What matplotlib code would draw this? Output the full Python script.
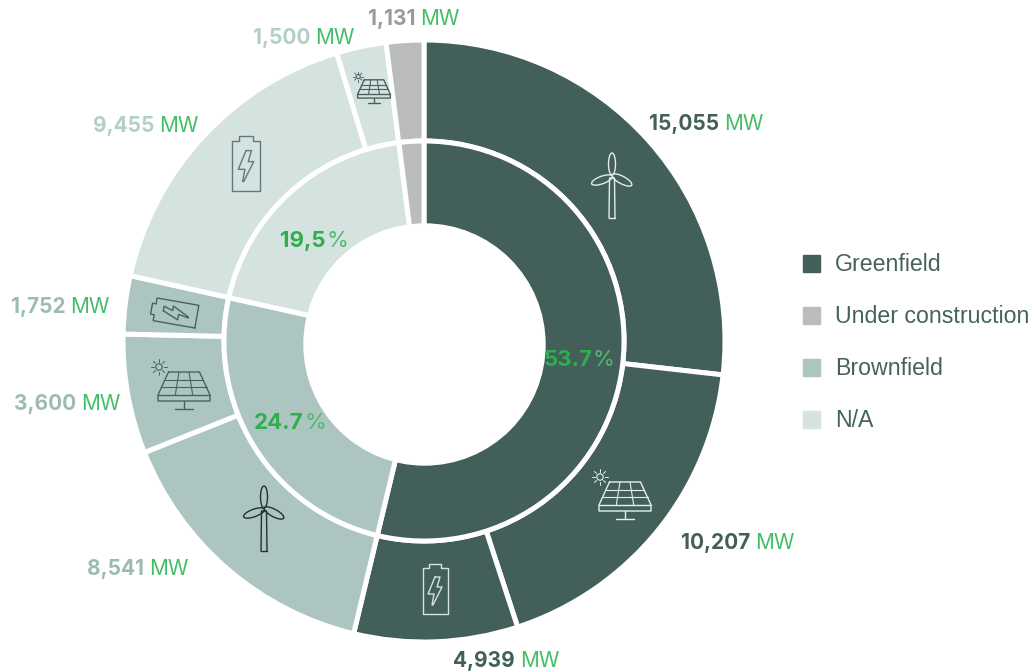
import matplotlib
matplotlib.use("Agg")
import matplotlib.pyplot as plt
import matplotlib.patches as mpatches
from matplotlib.transforms import Affine2D

# outer ring, clockwise from 12 o'clock
outer_labels = ["15,055", "10,207", "4,939", "8,541", "3,600", "1,752", "9,455", "1,500", "1,131"]
outer_values = [15055, 10207, 4939, 8541, 3600, 1752, 9455, 1500, 1131]

# inner ring
inner_names = ["Greenfield", "Brownfield", "N/A", "Under construction"]
inner_values = [53.7, 24.7, 19.5, 2.0]
inner_labels = ["53.7", "24.7", "19,5", ""]

legend_names = ["Greenfield", "Under construction", "Brownfield", "N/A"]

DARK = "#425F59"
GREY = "#BBBDBA"
BROWN = "#ACC5C1"
NA = "#D5E3E0"
GREEN = "#44BE66"
PCT = "#2FAE4E"
colors = {"Greenfield": DARK, "Under construction": GREY, "Brownfield": BROWN, "N/A": NA}
outer_colors = [DARK, DARK, DARK, BROWN, BROWN, BROWN, NA, NA, GREY]
label_colors = [DARK, DARK, DARK, "#9DBBB5", "#9DBBB5", "#9DBBB5", "#B4CEC8", "#B4CEC8", "#9A9A9A"]

# label centres, in pixels of the 1032x672 picture
label_pos = [(706, 122), (738, 541), (506, 659), (138, 567), (67, 402), (60, 305), (146, 124), (304, 36), (414, 17)]
pct_pos = [(579, 358), (290, 421), (314, 239)]

H = 672
FONT = "Inter"

fig = plt.figure(figsize=(10.32, 6.72), dpi=100)
ax = fig.add_axes([0, 0, 1, 1])

edge = dict(edgecolor="white", linewidth=3.6)
ax.pie(outer_values, colors=outer_colors, startangle=90, counterclock=False,
       center=(424, H - 341), radius=301, wedgeprops=dict(width=101, **edge))
ax.pie(inner_values, colors=[colors[n] for n in inner_names], startangle=90, counterclock=False,
       center=(424, H - 341), radius=200, wedgeprops=dict(width=100, **edge))
# the hole sits a bit lower than the rings
ax.add_patch(mpatches.Circle((424.5, H - 344.5), 120.5, color="white", zorder=5))

ax.set_xlim(0, 1032)
ax.set_ylim(0, H)
ax.set_aspect("auto")
ax.axis("off")


def icon_tf(cx, cy, s=1.0, rot=0):
    return Affine2D().rotate_deg(rot).scale(s, -s).translate(cx, H - cy) + ax.transData


def line(tf, xs, ys, color, lw=1.0):
    ax.plot(xs, ys, color=color, lw=lw, transform=tf, zorder=6, solid_capstyle="round",
            solid_joinstyle="round", clip_on=False)


def turbine(cx, cy, color, s=1.0):
    tf = icon_tf(cx, cy, s)
    for w, h, ang, x, y in [(7, 22, 0, 0, -11), (7.5, 22, 70, -10, 5), (7.5, 22, -62, 10, 5)]:
        ax.add_patch(mpatches.Ellipse((x, y), w, h, angle=ang, fill=False, edgecolor=color,
                                      lw=1.0, transform=tf, zorder=6))
    line(tf, [-3, -2.5, 2.5, 3], [43, 3, 3, 43], color)
    line(tf, [-3, 3], [43, 43], color)


def solar(cx, cy, color, s=1.0):
    tf = icon_tf(cx, cy, s)
    line(tf, [-15.5, 15.5, 26, 26, -26, -26, -15.5], [-13, -13, 10, 16, 16, 10, -13], color)
    line(tf, [-26, 26], [10, 10], color)
    for t in (1 / 3, 2 / 3):
        y = -13 + 23 * t
        hw = 15.5 + 10.5 * t
        line(tf, [-hw, hw], [y, y], color, 0.8)
    for k in (-1, 1):
        line(tf, [k * 5, k * 8.7], [-13, 10], color, 0.8)
    line(tf, [0, 0], [16, 24], color)
    line(tf, [-9, 9], [24, 24], color)
    ax.add_patch(mpatches.Circle((-25, -18), 3.2, fill=False, edgecolor=color, lw=0.8,
                                 transform=tf, zorder=6))
    for dx, dy in [(1, 0), (-1, 0), (0, 1), (0, -1), (.7, .7), (-.7, .7), (.7, -.7), (-.7, -.7)]:
        line(tf, [-25 + 5 * dx, -25 + 8 * dx], [-18 + 5 * dy, -18 + 8 * dy], color, 0.7)


def battery(cx, cy, color, s=1.0, rot=0):
    tf = icon_tf(cx, cy, s, rot)
    line(tf, [-12.5, -12.5, -6, -6, 6, 6, 12.5, 12.5, -12.5],
         [23, -23, -23, -27, -27, -23, -23, 23, 23], color)
    line(tf, [0, 5, 2, 7, -2, -3, -1, -7, 0], [-14, -14, -4, -4, 14, 14, 3, 3, -14], color)


turbine(612, 175, "#E3ECEA")
turbine(264, 508, "#26302E")
solar(625, 495, "#E8EFEE")
solar(184, 385, "#4A625D")
solar(374, 88, "#4A625D", 0.63)
battery(435, 591, "#D5E1DE", 1.0)
battery(246, 166, "#5F7B75", 1.1, 0)
battery(176, 313, "#4A625D", 0.92, -80)

renderer = fig.canvas.get_renderer()


def two_tone(x, y, bold, rest, color_a, color_b, size, gap):
    # bold part then light part, centred together on x
    a = ax.text(0, H - y, bold, color=color_a, fontsize=size, fontweight="bold", family=FONT,
                ha="left", va="center_baseline", zorder=7)
    b = ax.text(0, H - y, rest, color=color_b, fontsize=size, family=FONT,
                ha="left", va="center_baseline", zorder=7)
    wa = a.get_window_extent(renderer).width
    wb = b.get_window_extent(renderer).width
    left = x - (wa + gap + wb) / 2
    a.set_x(left)
    b.set_x(left + wa + gap)


for txt, c, (x, y) in zip(outer_labels, label_colors, label_pos):
    two_tone(x, y, txt, "MW", c, GREEN, 15, 5)

for txt, (x, y) in zip(inner_labels, pct_pos):
    two_tone(x, y, txt, "%", PCT, "#52B96F", 16, 0.5)

handles = [mpatches.Patch(color=colors[n], label=n) for n in legend_names]
ax.legend(handles=handles, loc="upper left", bbox_to_anchor=(796 / 1032, 1 - 246.5 / H),
          bbox_transform=ax.transAxes, frameon=False, labelcolor="#46625C",
          prop=dict(family="Liberation Sans", size=16.7), handlelength=0.75, handleheight=0.75,
          handletextpad=0.62, labelspacing=1.25, borderpad=0.3, borderaxespad=0)

fig.savefig("out.png", dpi=100)
